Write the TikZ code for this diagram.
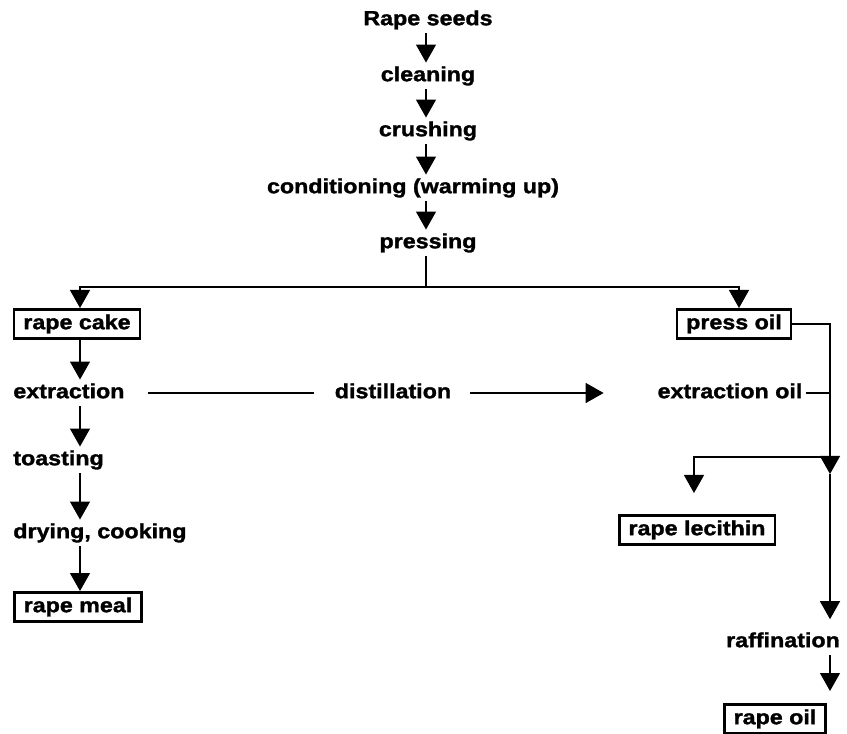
\documentclass[tikz,border=0pt]{standalone}
\usepackage{fontspec}
\newfontfamily\flowfont{Liberation Sans}[FakeStretch=1.14, FakeBold=1.5]
\usetikzlibrary{arrows.meta}

\begin{document}
\begin{tikzpicture}[x=0.75pt, y=-0.75pt, line width=1pt,
    >={Triangle[length=13.5pt, width=15pt]},
    proc/.style={font=\flowfont\bfseries\fontsize{15.3}{18}\selectfont,
        text height=11pt, text depth=3.2pt, inner xsep=2pt, inner ysep=2.5pt},
    prod/.style={proc, draw, line width=2pt, inner xsep=7pt, inner ysep=3.9pt}]

\useasboundingbox (0,0) rectangle (847,734);

% Pressing line
\node[proc] (seeds) at (428,20) {Rape seeds};
\node[proc] (cleaning) at (428,76) {cleaning};
\node[proc] (crushing) at (428,131) {crushing};
\node[proc] (conditioning) at (413,188) {conditioning (warming up)};
\node[proc] (pressing) at (428,243) {pressing};

% Products
\node[prod] (cake) at (77,324) {rape cake};
\node[prod] (pressoil) at (734,324) {press oil};
\node[prod] (meal) at (78,607) {rape meal};
\node[prod] (lecithin) at (697,530) {rape lecithin};
\node[prod] (rapeoil) at (775,719) {rape oil};

% Steps
\node[proc, anchor=west] (extraction) at (10,393) {extraction};
\node[proc] (distillation) at (393,393) {distillation};
\node[proc] (extoil) at (730,393) {extraction oil};
\node[proc, anchor=west] (toasting) at (10,460) {toasting};
\node[proc, anchor=west] (drying) at (10,533) {drying, cooking};
\node[proc] (raffination) at (783,642) {raffination};

% Columns and junctions
\coordinate (mcol) at (426,0);
\coordinate (lcol) at (80,0);
\coordinate (rcol) at (739,0);
\coordinate (ocol) at (830,0);
\coordinate (split) at (426,287);
\coordinate (branch) at (830,457);
\coordinate (merge) at (830,474);
\coordinate (lecin) at (694,493);

\foreach \a/\b in {seeds/cleaning, cleaning/crushing, crushing/conditioning, conditioning/pressing}
    \draw[->] (\a.south -| mcol) -- (\b.north -| mcol);
\draw (pressing.south -| mcol) -- (split);
\draw[->] (split) -| (cake.north -| lcol);
\draw[->] (split) -| (pressoil.north -| rcol);

\foreach \a/\b in {cake/extraction, extraction/toasting, toasting/drying, drying/meal}
    \draw[->] (\a.south -| lcol) -- (\b.north -| lcol);

\draw[shorten <=15pt, shorten >=13pt] (extraction) -- (distillation);
\draw[->, shorten <=12pt, shorten >=38pt] (distillation) -- (extoil);

\draw[->] (pressoil.east) -| (merge);
\draw (extoil.east) -- (extoil.east -| ocol);
\draw[->] (branch) -| (lecin);
\draw[->, shorten >=7pt] (merge) -- (raffination.north -| ocol);
\draw[->, shorten >=9pt] (raffination.south -| ocol) -- (rapeoil.north -| ocol);

\end{tikzpicture}
\end{document}
